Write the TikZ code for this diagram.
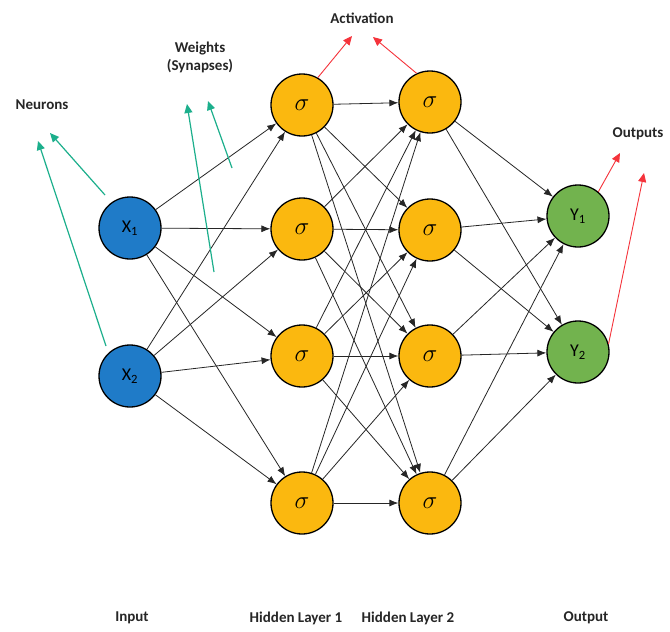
\documentclass[tikz,border=0pt]{standalone}
\usepackage{fontspec}
\setmainfont{Carlito}
\usetikzlibrary{arrows.meta}
\definecolor{inblue}{HTML}{1F7BC8}
\definecolor{hidorange}{HTML}{FBB80F}
\definecolor{outgreen}{HTML}{72B34E}
\definecolor{tealc}{HTML}{1CAF8C}
\definecolor{redc}{HTML}{F5333B}
\tikzset{
  neuron/.style={circle,draw=black,line width=1.3pt,minimum size=62pt,inner sep=0pt,font=\fontsize{18}{20}\selectfont},
  inn/.style={neuron,fill=inblue},
  hid/.style={neuron,fill=hidorange,font=\fontsize{25}{26}\selectfont},
  outn/.style={neuron,fill=outgreen},
  conn/.style={draw=black!85,line width=0.8pt,-{Latex[length=9pt,width=7pt]}},
  tealarrow/.style={draw=tealc,line width=1.2pt,-{Triangle[length=9pt,width=8pt]}},
  redarrow/.style={draw=redc,line width=0.9pt,-{Triangle[length=9pt,width=8pt]}},
  lbl/.style={font=\bfseries\fontsize{15}{18}\selectfont,align=center,text=black!85}
}
\begin{document}
\begin{tikzpicture}[x=1pt,y=-1pt]
\useasboundingbox (0,0) rectangle (670,632);
\fill[white] (0,0) rectangle (670,632);
% nodes
\node[inn] (x1) at (130,228) {X$_\mathrm{1}$};
\node[inn] (x2) at (130,376) {X$_\mathrm{2}$};
\node[hid] (a1) at (302,105) {$\sigma$};
\node[hid] (a2) at (302,229) {$\sigma$};
\node[hid] (a3) at (302,356) {$\sigma$};
\node[hid] (a4) at (302,503) {$\sigma$};
\node[hid] (b1) at (430,102) {$\sigma$};
\node[hid] (b2) at (430,230) {$\sigma$};
\node[hid] (b3) at (430,356) {$\sigma$};
\node[hid] (b4) at (430,503) {$\sigma$};
\node[outn] (y1) at (578,216) {Y$_\mathrm{1}$};
\node[outn] (y2) at (578,352) {Y$_\mathrm{2}$};
% connections
\foreach \i in {x1,x2}{\foreach \j in {a1,a2,a3,a4}{\draw[conn] (\i) -- (\j);}}
\foreach \i in {a1,a2,a3,a4}{\foreach \j in {b1,b2,b3,b4}{\draw[conn] (\i) -- (\j);}}
\foreach \i in {b1,b2,b3,b4}{\foreach \j in {y1,y2}{\draw[conn] (\i) -- (\j);}}
% labels
\node[lbl] (neur) at (42,105) {Neurons};
\node[lbl] (wts) at (200,57) {Weights\\(Synapses)};
\node[lbl] (act) at (362,18) {Activation};
\node[lbl] (outs) at (638,134) {Outputs};
\node[lbl] (lin) at (132,618) {Input};
\node[lbl] (lh1) at (296,618) {Hidden Layer 1};
\node[lbl] (lh2) at (408,618) {Hidden Layer 2};
\node[lbl] (lout) at (586,618) {Output};
% annotation arrows
\coordinate (n1s) at (105,195);
\coordinate (n1e) at (50,133);
\coordinate (n2s) at (106,346);
\coordinate (n2e) at (38,141);
\coordinate (w1s) at (232,168);
\coordinate (w1e) at (208,101);
\coordinate (w2s) at (214,272);
\coordinate (w2e) at (187,104);
\draw[tealarrow] (n1s) -- (n1e);
\draw[tealarrow] (n2s) -- (n2e);
\draw[tealarrow] (w1s) -- (w1e);
\draw[tealarrow] (w2s) -- (w2e);
\coordinate (r1e) at (352,36);
\coordinate (r2e) at (373,37);
\coordinate (r3e) at (620,153);
\coordinate (r4e) at (644,173);
\draw[redarrow] (a1.60) -- (r1e);
\draw[redarrow] (b1.115) -- (r2e);
\draw[redarrow] (y1.50) -- (r3e);
\draw[redarrow] (y2.15) -- (r4e);
\end{tikzpicture}
\end{document}
